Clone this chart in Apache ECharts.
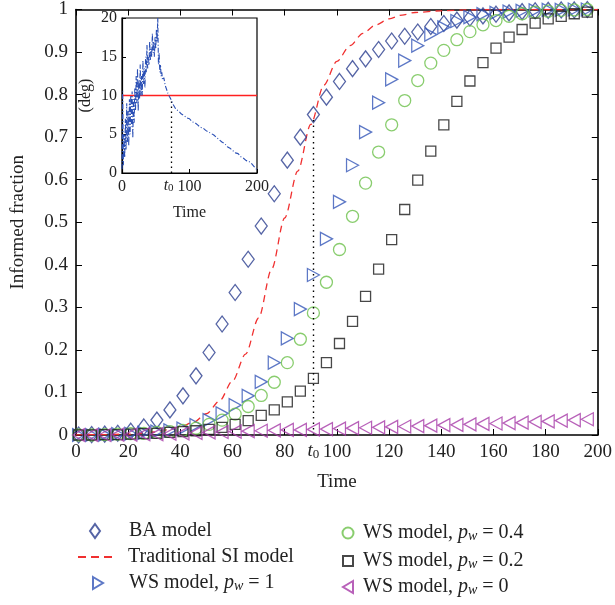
<!DOCTYPE html>
<html>
<head>
<meta charset="utf-8">
<script src="https://cdn.jsdelivr.net/npm/echarts@6/dist/echarts.min.js"></script>
<style>
  html, body { margin: 0; padding: 0; background: #fff; }
  #chart { width: 615px; height: 605px; }
</style>
</head>
<body>
<div id="chart"></div>
<script>
// time steps of the simulated points (every 5 units)
var timeSteps = [1, 6, 11, 16, 21, 26, 31, 36, 41, 46, 51, 56, 61, 66, 71, 76, 81, 86, 91, 96,
                 101, 106, 111, 116, 121, 126, 131, 136, 141, 146, 151, 156, 161, 166, 171, 176, 181, 186, 191, 196];

var baModel = [0, 0.001, 0.002, 0.004, 0.009, 0.019, 0.035, 0.059, 0.092, 0.139,
               0.194, 0.261, 0.335, 0.413, 0.491, 0.567, 0.646, 0.700, 0.753, 0.794,
               0.831, 0.861, 0.884, 0.906, 0.926, 0.937, 0.947, 0.960, 0.967, 0.975,
               0.980, 0.985, 0.989, 0.992, 0.995, 0.997, 0.998, 0.999, 0.999, 1.0];

var wsP1 = [0, 0, 0.001, 0.002, 0.003, 0.005, 0.008, 0.011, 0.015, 0.023,
            0.035, 0.051, 0.070, 0.092, 0.125, 0.170, 0.227, 0.296, 0.376, 0.461,
            0.548, 0.634, 0.712, 0.781, 0.836, 0.880, 0.915, 0.941, 0.958, 0.973,
            0.982, 0.989, 0.992, 0.995, 0.997, 0.998, 0.999, 0.999, 1.0, 1.0];

var wsP04 = [0, 0, 0.001, 0.002, 0.003, 0.004, 0.006, 0.008, 0.011, 0.016,
             0.025, 0.035, 0.049, 0.067, 0.093, 0.124, 0.170, 0.225, 0.287, 0.359,
             0.436, 0.514, 0.592, 0.665, 0.729, 0.786, 0.833, 0.874, 0.904, 0.929,
             0.948, 0.964, 0.974, 0.984, 0.990, 0.994, 0.996, 0.998, 0.999, 1.0];

var wsP02 = [0, 0, 0.001, 0.001, 0.002, 0.003, 0.004, 0.006, 0.008, 0.010,
             0.013, 0.018, 0.025, 0.034, 0.046, 0.059, 0.078, 0.103, 0.133, 0.170,
             0.215, 0.267, 0.326, 0.390, 0.459, 0.530, 0.599, 0.667, 0.729, 0.784,
             0.832, 0.875, 0.909, 0.935, 0.953, 0.968, 0.978, 0.984, 0.990, 0.994];

var wsP0 = [0, 0, 0, 0.001, 0.001, 0.002, 0.002, 0.003, 0.004, 0.005,
            0.006, 0.007, 0.008, 0.009, 0.010, 0.011, 0.012, 0.012, 0.013, 0.014,
            0.015, 0.016, 0.017, 0.018, 0.019, 0.020, 0.021, 0.022, 0.023, 0.024,
            0.025, 0.026, 0.027, 0.028, 0.029, 0.031, 0.032, 0.034, 0.035, 0.037];

// traditional SI model curve
var siTime = [0, 10, 20, 25, 30, 35, 40, 45, 50, 55, 60, 65, 70, 75, 80, 85, 90, 95, 100,
              105, 110, 115, 120, 125, 130, 140, 150, 160, 180, 200];
var siValues = [0, 0.001, 0.002, 0.004, 0.007, 0.012, 0.019, 0.030, 0.050, 0.080, 0.127, 0.190,
                0.275, 0.390, 0.510, 0.620, 0.730, 0.822, 0.878, 0.915, 0.944, 0.964, 0.978,
                0.987, 0.993, 0.997, 0.999, 1, 1, 1];

// inset: degree vs time
var degTime = [0, 1, 2, 3, 4, 5, 6, 7, 8, 9, 10, 11, 12, 13, 14, 15, 16, 17, 18, 19,
               20, 21, 22, 23, 24, 25, 26, 27, 28, 29, 30, 31, 32, 33, 34, 35, 36, 37, 38, 39,
               40, 41, 42, 43, 44, 45, 46, 47, 48, 49, 50, 51, 52, 53, 54, 55, 56, 57, 58, 59, 60,
               62, 64, 66, 68, 70, 72, 74,
               76, 80, 84, 88, 92, 96, 100, 104, 108, 112, 116, 120, 124, 128, 132, 136,
               140, 144, 148, 152, 156, 160, 164, 168, 172, 176, 180, 184, 188, 192, 196, 200];
var degValues = [0.5, 10.5, 1, 5, 2, 7, 3, 9, 4, 8,
                 3.5, 9.5, 5, 10, 6, 10.5, 4.5, 9.5, 6.5, 11,
                 8, 12.5, 9, 13.5, 8, 12, 9.5, 14, 10, 12.5,
                 10, 14.5, 11.5, 13.5, 11, 15, 13, 16.5, 13.5, 15,
                 14, 17, 14.5, 16, 15, 18, 15.5, 17, 15, 17.5,
                 16, 18.5, 17, 20, 14, 15.5, 13, 14, 12.5, 13, 12,
                 12.3, 11.3, 10.8, 10.3, 9.9, 9.6, 9.2,
                 8.8, 8.2, 8.0, 7.6, 7.4, 7.1, 7.0, 6.6, 6.5, 6.2, 5.9, 5.8, 5.5, 5.3, 5.1, 4.9,
                 4.6, 4.3, 4.0, 3.8, 3.4, 3.2, 2.9, 2.6, 2.5, 2.1, 1.9, 1.6, 1.5, 1.2, 0.8, 0.4];

var t0Main = 91;      // t0 in main plot
var t0Inset = 73.5;   // t0 in the inset
var degThreshold = 10;

var serif = '"Liberation Serif", "DejaVu Serif", serif';

function pairs(xs, ys) {
    return xs.map(function (x, i) { return [x, ys[i]]; });
}

function hollow(color) {
    return { color: 'rgba(255,255,255,0)', borderColor: color, borderWidth: 1.3 };
}

var subRich = {
    p: { fontFamily: serif, fontStyle: 'italic', fontSize: 20, color: '#222', lineHeight: 20 },
    w: { fontFamily: serif, fontStyle: 'italic', fontSize: 14, color: '#222', verticalAlign: 'bottom', lineHeight: 13 },
    t: { fontFamily: serif, fontStyle: 'italic', fontSize: 19, color: '#222', lineHeight: 20 },
    s: { fontFamily: serif, fontSize: 13, color: '#222', verticalAlign: 'bottom', lineHeight: 13 }
};
var subRichSmall = {
    t: { fontFamily: serif, fontStyle: 'italic', fontSize: 16, color: '#222', lineHeight: 17 },
    s: { fontFamily: serif, fontSize: 11, color: '#222', verticalAlign: 'bottom', lineHeight: 11 }
};

var ICON_RIGHT = 'path://M0,0L10,6L0,12Z';
var ICON_LEFT = 'path://M10,0L0,6L10,12Z';
var ICON_DASH = 'path://M0,0h8v2h-8zM13,0h8v2h-8zM26,0h8v2h-8z';

// one legend per entry so each icon can have its own size
function legendItem(name, icon, cx, cy, w, h, textX) {
    var left = cx - w / 2;
    return {
        data: [{ name: name, icon: icon }],
        left: left, top: cy - 10, padding: 0,
        itemWidth: w, itemHeight: h, symbolRotate: 0,
        formatter: function (n) { return n.replace('pw', '{p|p}{w|w}'); },
        textStyle: {
            fontFamily: serif, fontSize: 20, color: '#222', lineHeight: 20,
            padding: [0, 0, 0, textX - (left + w + 5)], rich: subRich
        }
    };
}

var chart = echarts.init(document.getElementById('chart'));

var tickStyle = { inside: true, length: 6, lineStyle: { color: '#000', width: 1 } };
var axisLineStyle = { show: true, onZero: false, lineStyle: { color: '#000', width: 1.6 } };
var labelStyle = { fontFamily: serif, fontSize: 19, color: '#222' };

var option = {
    animation: false,
    backgroundColor: '#fff',
    grid: [
        { left: 76, right: 15, top: 9, bottom: 170 },
        { left: 122, top: 18, width: 135, height: 155, show: true, borderColor: '#000', borderWidth: 1.2, backgroundColor: '#fff' }
    ],
    xAxis: [
        {
            type: 'value', gridIndex: 0, min: 0, max: 200, interval: 20,
            axisLine: axisLineStyle, axisTick: tickStyle, splitLine: { show: false },
            axisLabel: labelStyle,
            name: 'Time', nameLocation: 'middle', nameGap: 38,
            nameTextStyle: { fontFamily: serif, fontSize: 19, color: '#222' }
        },
        {
            type: 'value', gridIndex: 0, position: 'top', min: 0, max: 200, interval: 20,
            axisLine: axisLineStyle, axisTick: tickStyle, splitLine: { show: false },
            axisLabel: { show: false }
        },
        {
            type: 'value', gridIndex: 1, min: 0, max: 200, interval: 100,
            axisLine: { show: true, onZero: false, lineStyle: { color: '#000', width: 1.2 } },
            axisTick: { inside: true, length: 4, lineStyle: { color: '#000' } },
            splitLine: { show: false },
            axisLabel: { fontFamily: serif, fontSize: 16, color: '#222', margin: 6 },
            name: 'Time', nameLocation: 'middle', nameGap: 32,
            nameTextStyle: { fontFamily: serif, fontSize: 16, color: '#222' }
        }
    ],
    yAxis: [
        {
            type: 'value', gridIndex: 0, min: 0, max: 1, interval: 0.1,
            axisLine: axisLineStyle, axisTick: tickStyle, splitLine: { show: false },
            axisLabel: labelStyle,
            name: 'Informed fraction', nameLocation: 'middle', nameGap: 48,
            nameTextStyle: { fontFamily: serif, fontSize: 19, color: '#222' }
        },
        {
            type: 'value', gridIndex: 0, position: 'right', min: 0, max: 1, interval: 0.1,
            axisLine: axisLineStyle, axisTick: tickStyle, splitLine: { show: false },
            axisLabel: { show: false }
        },
        {
            type: 'value', gridIndex: 1, min: 0, max: 20, interval: 5,
            axisLine: { show: true, onZero: false, lineStyle: { color: '#000', width: 1.2 } },
            axisTick: { inside: true, length: 4, lineStyle: { color: '#000' } },
            splitLine: { show: false },
            axisLabel: { fontFamily: serif, fontSize: 16, color: '#222', margin: 5 },
            name: '(deg)', nameLocation: 'middle', nameGap: 28,
            nameTextStyle: { fontFamily: serif, fontSize: 16, color: '#222' }
        }
    ],
    legend: [
        legendItem('BA model', 'diamond', 94, 531, 10, 14, 128),
        legendItem('Traditional SI model', ICON_DASH, 95, 557, 34, 2, 128),
        legendItem('WS model, pw = 1', ICON_RIGHT, 97, 583, 10, 12, 128),
        legendItem('WS model, pw = 0.4', 'circle', 347, 533, 11, 11, 362),
        legendItem('WS model, pw = 0.2', 'rect', 347, 561, 10, 10, 362),
        legendItem('WS model, pw = 0', ICON_LEFT, 347, 587, 10, 12, 362)
    ],
    series: [
        {
            name: 'Traditional SI model', type: 'line', xAxisIndex: 0, yAxisIndex: 0,
            data: pairs(siTime, siValues), symbol: 'none', showSymbol: false,
            smooth: 0.3, smoothMonotone: 'x',
            lineStyle: { color: '#f03030', width: 1.3, type: [7, 5] },
            itemStyle: { color: '#f03030' }, z: 2
        },
        {
            name: 'BA model', type: 'scatter', xAxisIndex: 0, yAxisIndex: 0,
            data: pairs(timeSteps, baModel), symbol: 'diamond', symbolSize: [12, 16],
            itemStyle: hollow('#2b3d8f'), z: 3
        },
        {
            name: 'WS model, pw = 1', type: 'scatter', xAxisIndex: 0, yAxisIndex: 0,
            data: pairs(timeSteps, wsP1), symbol: 'triangle', symbolSize: [13, 12], symbolRotate: -90,
            itemStyle: hollow('#3556b8'), z: 3
        },
        {
            name: 'WS model, pw = 0.4', type: 'scatter', xAxisIndex: 0, yAxisIndex: 0,
            data: pairs(timeSteps, wsP04), symbol: 'circle', symbolSize: 12,
            itemStyle: hollow('#6cc04a'), z: 3
        },
        {
            name: 'WS model, pw = 0.2', type: 'scatter', xAxisIndex: 0, yAxisIndex: 0,
            data: pairs(timeSteps, wsP02), symbol: 'rect', symbolSize: 10,
            itemStyle: hollow('#1a1a1a'), z: 3,
            markLine: {
                silent: true, symbol: 'none',
                lineStyle: { color: '#000', type: [1.5, 4], width: 1.4 },
                label: { show: true, position: 'start', distance: 6, formatter: '{t|t}{s|0}', rich: subRich },
                data: [[{ coord: [t0Main, 0] }, { coord: [t0Main, 0.745] }]]
            }
        },
        {
            name: 'WS model, pw = 0', type: 'scatter', xAxisIndex: 0, yAxisIndex: 0,
            data: pairs(timeSteps, wsP0), symbol: 'triangle', symbolSize: [13, 12], symbolRotate: 90,
            itemStyle: hollow('#a63aa8'), z: 3
        },
        {
            name: 'degree', type: 'line', xAxisIndex: 2, yAxisIndex: 2,
            data: pairs(degTime, degValues), symbol: 'none', showSymbol: false,
            lineStyle: { color: '#2a4fb5', width: 1.1, type: [5, 2, 1, 2] },
            z: 5,
            markLine: {
                silent: true, symbol: 'none',
                data: [
                    { yAxis: degThreshold, lineStyle: { color: '#ff2020', type: 'solid', width: 1.3 }, label: { show: false } },
                    [{ coord: [t0Inset, 0], lineStyle: { color: '#000', type: [1.5, 3.5], width: 1.3 },
                       label: { show: true, position: 'start', distance: 4, offset: [-3, 0], formatter: '{t|t}{s|0}', rich: subRichSmall } },
                     { coord: [t0Inset, 9.4] }]
                ]
            }
        }
    ]
};

chart.setOption(option);
</script>
</body>
</html>
